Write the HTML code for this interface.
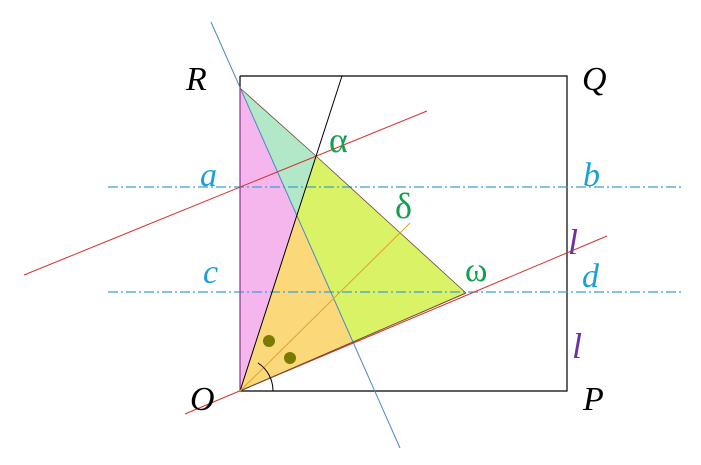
<!DOCTYPE html>
<html><head><meta charset="utf-8"><style>
html,body{margin:0;padding:0;background:#fff;}
svg{display:block;}
text{font-family:"Liberation Serif","DejaVu Serif",serif;font-style:italic;}
</style></head><body>
<svg width="701" height="465" viewBox="0 0 701 465" xmlns="http://www.w3.org/2000/svg">
<rect width="701" height="465" fill="#fff"/>
<polygon points="240,88 240,391 297,215" fill="#f4b6ec"/>
<polygon points="240,88 316,156 297,215" fill="#b2e8c8"/>
<polygon points="316,156 466,293 353,342 297,215" fill="#d9f266"/>
<polygon points="240,391 297,215 353,342" fill="#fbd97a"/>
<polyline points="240,76 567,76 567,391 240,391 240,76" fill="none" stroke="#000" stroke-width="1.2"/>
<line x1="108" y1="187" x2="682" y2="187" stroke="#3aa0d0" stroke-width="1.2" stroke-dasharray="10,3,2,3"/>
<line x1="108" y1="292" x2="682" y2="292" stroke="#3aa0d0" stroke-width="1.2" stroke-dasharray="10,3,2,3"/>
<line x1="211" y1="22" x2="400" y2="448" stroke="#4a86c8" stroke-width="1"/>
<line x1="24" y1="275" x2="427" y2="111" stroke="#d83030" stroke-width="1"/>
<line x1="185" y1="414" x2="607" y2="236" stroke="#d83030" stroke-width="1"/>
<line x1="240" y1="391" x2="342" y2="76" stroke="#000" stroke-width="1"/>
<line x1="240" y1="391" x2="466" y2="293" stroke="#6a4a30" stroke-width="1"/>
<line x1="240" y1="88" x2="316" y2="156" stroke="#6a4a30" stroke-width="0.8"/>
<line x1="316" y1="156" x2="466" y2="293" stroke="#6a4a30" stroke-width="0.8"/>
<line x1="240" y1="88" x2="240" y2="391" stroke="#a040a0" stroke-width="1"/>
<line x1="240" y1="391" x2="410" y2="223" stroke="#e0a030" stroke-width="1"/>
<path d="M 258,363 A 33 33 0 0 1 273,391" fill="none" stroke="#000" stroke-width="1"/>
<circle cx="269" cy="341" r="6" fill="#7a7a00"/>
<circle cx="290" cy="358" r="6" fill="#7a7a00"/>
<g font-size="34" fill="#000">
<text x="186" y="90">R</text><text x="582" y="90">Q</text>
<text x="190" y="410">O</text><text x="583" y="410">P</text>
</g>
<g font-size="34" fill="#1aa0d8">
<text x="200" y="186">a</text><text x="583" y="186">b</text>
<text x="203" y="283">c</text><text x="582" y="287">d</text>
</g>
<g font-size="36" fill="#7030a0">
<text x="568" y="254">l</text><text x="572" y="358">l</text>
</g>
<g fill="#10a050">
<text x="329" y="152" font-size="36" style="font-style:normal">α</text>
<text x="395" y="218" font-size="36" style="font-style:normal">δ</text>
<text x="465" y="281" font-size="34" style="font-style:normal">ω</text>
</g>
</svg>
</body></html>
